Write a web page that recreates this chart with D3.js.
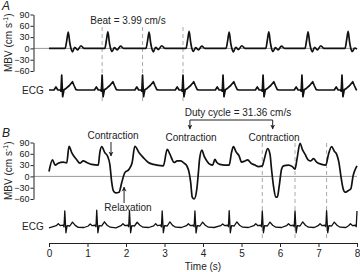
<!DOCTYPE html>
<html>
<head>
<meta charset="utf-8">
<script src="https://cdn.jsdelivr.net/npm/d3@7"></script>
<style>
  body { margin: 0; background: #fff; }
  svg { font-family: "Liberation Sans", Arial, sans-serif; }
  .axis text { font-size: 9px; fill: #222; }
  .axis path, .axis line { stroke: #222; stroke-width: 1; }
  .lbl { font-size: 10px; fill: #222; }
</style>
</head>
<body>
<svg id="chart" width="360" height="272"></svg>
<script>
// ---- data (time in s, MBV in cm/s, ECG in arbitrary units) ----
const mbvTicks = [-60, -30, 0, 30, 60, 90];
const timeTicks = [0, 1, 2, 3, 4, 5, 6, 7, 8];

// Panel A: regular beats
const mbvA = [
  [0,0],
  [0.42,0],[0.46,20],[0.50,43],[0.54,15],[0.57,0],[0.61,-9],[0.67,3],[0.74,-4],[0.83,7],[0.91,0],
  [1.45,0],[1.49,21],[1.53,44],[1.57,14],[1.60,0],[1.64,-8],[1.70,2],[1.77,-4],[1.86,6],[1.94,0],
  [2.52,0],[2.56,20],[2.60,43],[2.64,15],[2.67,0],[2.71,-9],[2.77,3],[2.84,-3],[2.93,7],[3.01,0],
  [3.56,0],[3.60,22],[3.64,45],[3.68,16],[3.71,0],[3.75,-8],[3.81,2],[3.88,-4],[3.97,6],[4.05,0],
  [4.60,0],[4.64,20],[4.68,43],[4.72,14],[4.75,0],[4.79,-9],[4.85,3],[4.92,-3],[5.01,7],[5.09,0],
  [5.63,0],[5.67,21],[5.71,44],[5.75,15],[5.78,0],[5.82,-8],[5.88,2],[5.95,-4],[6.04,6],[6.12,0],
  [6.65,0],[6.69,21],[6.73,44],[6.77,15],[6.80,0],[6.84,-9],[6.90,3],[6.97,-4],[7.06,7],[7.14,0],
  [7.69,0],[7.73,22],[7.77,45],[7.81,15],[7.84,0],[7.88,-8],[7.94,1],[8.0,-2]
];

const ecgA = [
  [0,0],
  [0.13,0],[0.18,0.2],[0.23,0],[0.29,0],[0.31,-0.08],[0.33,1.0],[0.355,-0.45],[0.39,0.02],[0.45,0.12],[0.53,0.3],[0.61,0.55],[0.65,0.3],[0.70,0.02],[0.75,0],
  [1.18,0],[1.23,0.2],[1.28,0],[1.34,0],[1.36,-0.08],[1.38,1.0],[1.405,-0.45],[1.44,0.02],[1.50,0.12],[1.58,0.3],[1.66,0.55],[1.70,0.3],[1.75,0.02],[1.80,0],
  [2.23,0],[2.28,0.2],[2.33,0],[2.39,0],[2.41,-0.08],[2.43,1.0],[2.455,-0.45],[2.49,0.02],[2.55,0.12],[2.63,0.3],[2.71,0.55],[2.75,0.3],[2.80,0.02],[2.85,0],
  [3.28,0],[3.33,0.2],[3.38,0],[3.44,0],[3.46,-0.08],[3.48,1.0],[3.505,-0.45],[3.54,0.02],[3.60,0.12],[3.68,0.3],[3.76,0.55],[3.80,0.3],[3.85,0.02],[3.90,0],
  [4.32,0],[4.37,0.2],[4.42,0],[4.48,0],[4.50,-0.08],[4.52,1.0],[4.545,-0.45],[4.58,0.02],[4.64,0.12],[4.72,0.3],[4.80,0.55],[4.84,0.3],[4.89,0.02],[4.94,0],
  [5.36,0],[5.41,0.2],[5.46,0],[5.52,0],[5.54,-0.08],[5.56,1.0],[5.585,-0.45],[5.62,0.02],[5.68,0.12],[5.76,0.3],[5.84,0.55],[5.88,0.3],[5.93,0.02],[5.98,0],
  [6.37,0],[6.42,0.2],[6.47,0],[6.53,0],[6.55,-0.08],[6.57,1.0],[6.595,-0.45],[6.63,0.02],[6.69,0.12],[6.77,0.3],[6.85,0.55],[6.89,0.3],[6.94,0.02],[6.99,0],
  [7.41,0],[7.46,0.2],[7.51,0],[7.57,0],[7.59,-0.08],[7.61,1.0],[7.635,-0.45],[7.67,0.02],[7.73,0.12],[7.81,0.3],[7.89,0.55],[7.93,0.3],[7.98,0.02],[8.0,0]
];

// Panel B: contraction / relaxation episodes
const mbvB = [
  [0,13],[0.09,44],[0.16,30],[0.24,35],[0.37,38],[0.46,36],[0.52,80],[0.59,63],[0.72,44],[0.80,35],
  [0.89,41],[0.98,37],[1.11,32],[1.28,30],[1.32,63],[1.37,79],[1.45,63],[1.52,54],[1.58,32],[1.63,-16],
  [1.67,-38],[1.73,-44],[1.82,-42],[1.89,-16],[1.97,10],[2.08,19],[2.16,37],[2.23,80],[2.34,63],[2.45,50],
  [2.58,37],[2.71,32],[2.80,30],[2.97,28],[3.07,72],[3.14,59],[3.25,37],[3.33,41],[3.42,41],[3.51,35],
  [3.58,28],[3.64,10],[3.68,-16],[3.72,-55],[3.77,-60],[3.84,-33],[3.88,10],[3.91,45],[3.97,70],[4.03,54],
  [4.10,41],[4.18,32],[4.25,30],[4.31,45],[4.36,37],[4.44,32],[4.57,30],[4.68,30],[4.74,63],[4.79,79],
  [4.86,65],[4.94,54],[5.00,38],[5.09,41],[5.16,44],[5.25,35],[5.35,30],[5.44,26],[5.54,28],[5.59,45],
  [5.68,74],[5.74,59],[5.78,19],[5.83,-25],[5.89,-55],[5.93,-55],[5.98,-25],[6.04,19],[6.09,28],[6.22,30],
  [6.32,26],[6.39,19],[6.44,45],[6.52,88],[6.58,72],[6.65,59],[6.73,44],[6.80,41],[6.87,47],[6.95,38],
  [7.08,32],[7.19,30],[7.26,59],[7.34,79],[7.41,67],[7.47,59],[7.53,37],[7.58,2],[7.64,-33],[7.69,-42],
  [7.77,-38],[7.84,-33],[7.90,2],[7.94,15],[8.0,28]
];

const ecgB = [
  [0,-0.12],
  [0.19,0.02],[0.24,0.16],[0.29,0.03],[0.37,0.06],[0.39,-0.06],[0.41,1.0],[0.44,-0.45],[0.47,0.02],[0.54,0.0],[0.61,0.26],[0.68,0.04],[0.76,-0.09],[0.91,-0.1],
  [1.02,0.0],[1.07,0.14],[1.12,0.02],[1.20,0.05],[1.22,-0.05],[1.24,1.05],[1.27,-0.45],[1.30,0.02],[1.37,0.01],[1.44,0.28],[1.51,0.05],[1.59,-0.08],[1.74,-0.12],
  [1.87,0.02],[1.92,0.15],[1.97,0.03],[2.05,0.05],[2.07,-0.05],[2.09,1.02],[2.12,-0.45],[2.15,0.02],[2.22,0.0],[2.29,0.25],[2.36,0.05],[2.44,-0.08],[2.59,-0.1],
  [2.72,0.01],[2.77,0.16],[2.82,0.02],[2.90,0.06],[2.92,-0.06],[2.94,1.0],[2.97,-0.44],[3.00,0.02],[3.07,0.0],[3.14,0.27],[3.21,0.04],[3.29,-0.08],[3.44,-0.1],
  [3.57,0.02],[3.62,0.15],[3.67,0.03],[3.75,0.05],[3.77,-0.05],[3.79,1.0],[3.82,-0.46],[3.85,0.02],[3.92,0.0],[3.99,0.26],[4.06,0.05],[4.14,-0.08],[4.29,-0.1],
  [4.46,0.02],[4.51,0.14],[4.56,0.03],[4.64,0.05],[4.66,-0.05],[4.68,1.02],[4.71,-0.45],[4.74,0.02],[4.81,0.0],[4.88,0.27],[4.95,0.05],[5.03,-0.08],[5.18,-0.1],
  [5.32,0.02],[5.37,0.15],[5.42,0.03],[5.50,0.05],[5.52,-0.05],[5.54,1.0],[5.57,-0.45],[5.60,0.02],[5.67,0.0],[5.74,0.26],[5.81,0.05],[5.89,-0.08],[6.04,-0.1],
  [6.17,0.02],[6.22,0.15],[6.27,0.03],[6.35,0.05],[6.37,-0.05],[6.39,1.0],[6.42,-0.45],[6.45,0.02],[6.52,0.0],[6.59,0.27],[6.66,0.05],[6.74,-0.08],[6.89,-0.1],
  [6.99,0.02],[7.04,0.15],[7.09,0.03],[7.17,0.05],[7.19,-0.05],[7.21,1.02],[7.24,-0.45],[7.27,0.02],[7.34,0.0],[7.41,0.26],[7.48,0.05],[7.56,-0.08],[7.71,-0.1],
  [7.78,0.02],[7.83,0.15],[7.88,0.03],[7.96,0.05],[7.98,-0.05],[8.0,1.0]
];

// R-peak times marked with dashed guides
const markA = [1.38, 2.43, 3.48];
const markB = [5.54, 6.39, 7.21];

// annotations
const contractionT = [1.61, 3.66, 5.81];
const relaxationT = 1.95;

// ---- drawing ----
const svg = d3.select("#chart");
const axisX = 33.5;

const x = d3.scaleLinear().domain([0, 8]).range([49, 357]);
const yA = d3.scaleLinear().domain([-60, 90]).range([71, 14.5]);
const yB = d3.scaleLinear().domain([-60, 90]).range([199, 142.5]);
const eA = d3.scaleLinear().domain([0, 1]).range([90, 75]);
const eB = d3.scaleLinear().domain([0, 1]).range([226, 211]);

svg.append("defs").append("marker")
    .attr("id", "arr")
    .attr("viewBox", "0 0 10 10")
    .attr("refX", 9).attr("refY", 5)
    .attr("markerWidth", 5).attr("markerHeight", 6)
    .attr("orient", "auto-start-reverse")
    .append("path")
    .attr("d", "M0,0 L10,5 L0,10 L3,5 Z")
    .attr("fill", "#222");

// zero lines
[yA, yB].forEach(y => {
    svg.append("line")
        .attr("x1", axisX).attr("x2", x(8))
        .attr("y1", y(0)).attr("y2", y(0))
        .attr("stroke", "#9a9a9a").attr("stroke-width", 1);
});

// dashed guides
markA.forEach(t => {
    svg.append("line")
        .attr("x1", x(t)).attr("x2", x(t)).attr("y1", 27).attr("y2", 102)
        .attr("stroke", "#aaa").attr("stroke-width", 1).attr("stroke-dasharray", "4,3");
});
markB.forEach(t => {
    svg.append("line")
        .attr("x1", x(t)).attr("x2", x(t)).attr("y1", 143).attr("y2", 240)
        .attr("stroke", "#aaa").attr("stroke-width", 1).attr("stroke-dasharray", "4,3");
});

// traces
function trace(data, y, curve, w) {
    const line = d3.line().x(d => x(d[0])).y(d => y(d[1])).curve(curve);
    svg.append("path")
        .attr("d", line(data))
        .attr("fill", "none")
        .attr("stroke", "#111")
        .attr("stroke-width", w)
        .attr("stroke-linejoin", "round");
}
trace(mbvA, yA, d3.curveMonotoneX, 1.7);
trace(ecgA, eA, d3.curveLinear, 1.7);
trace(mbvB, yB, d3.curveMonotoneX, 1.7);
trace(ecgB, eB, d3.curveLinear, 1.3);

// y axes
[yA, yB].forEach(y => {
    svg.append("g")
        .attr("class", "axis")
        .attr("transform", `translate(${axisX},0)`)
        .call(d3.axisLeft(y).tickValues(mbvTicks).tickSize(3).tickSizeOuter(0).tickPadding(1));
});

// x axis (panel B)
const xAxis = svg.append("g")
    .attr("class", "axis")
    .attr("transform", "translate(0,243)")
    .call(d3.axisBottom(x).tickValues(timeTicks).tickSize(4).tickSizeOuter(0).tickPadding(3));
xAxis.selectAll("text").style("font-size", "10px");

// y axis titles
[[yA, "A"], [yB, "B"]].forEach(([y]) => {
    const cy = (y.range()[0] + y.range()[1]) / 2;
    const t = svg.append("text")
        .attr("class", "lbl")
        .attr("transform", `translate(12,${cy}) rotate(-90)`)
        .attr("text-anchor", "middle");
    t.append("tspan").text("MBV (cm s");
    t.append("tspan").attr("font-size", "7px").attr("dy", -4).text("-1");
    t.append("tspan").attr("dy", 4).text(")");
});

// panel letters
svg.append("text").attr("x", 2).attr("y", 10)
    .attr("font-size", "12px").attr("font-style", "italic").attr("fill", "#222").text("A");
svg.append("text").attr("x", 2).attr("y", 137)
    .attr("font-size", "12px").attr("font-style", "italic").attr("fill", "#222").text("B");

// ECG labels
svg.append("text").attr("class", "lbl").attr("x", 22).attr("y", 94).text("ECG");
svg.append("text").attr("class", "lbl").attr("x", 22).attr("y", 230).text("ECG");

// x title
svg.append("text").attr("class", "lbl").attr("x", 203).attr("y", 270)
    .attr("text-anchor", "middle").text("Time (s)");

// annotations
svg.append("text").attr("class", "lbl").attr("x", 128).attr("y", 24)
    .attr("text-anchor", "middle").text("Beat = 3.99 cm/s");

svg.append("text").attr("class", "lbl").attr("x", 238).attr("y", 116)
    .attr("text-anchor", "middle").text("Duty cycle = 31.36 cm/s");

// bracket for duty cycle
svg.append("line")
    .attr("x1", x(contractionT[1])).attr("x2", x(contractionT[2]))
    .attr("y1", 120).attr("y2", 120)
    .attr("stroke", "#222").attr("stroke-width", 1);
[contractionT[1], contractionT[2]].forEach(t => {
    svg.append("line")
        .attr("x1", x(t)).attr("x2", x(t)).attr("y1", 120).attr("y2", 129)
        .attr("stroke", "#222").attr("stroke-width", 1)
        .attr("marker-end", "url(#arr)");
});

const contrLabelX = [113, 191, 274];
const contrLabelY = [139, 141, 141];
contrLabelX.forEach((cx, i) => {
    svg.append("text").attr("class", "lbl").attr("x", cx).attr("y", contrLabelY[i])
        .attr("text-anchor", "middle").text("Contraction");
});

// first contraction arrow
svg.append("line")
    .attr("x1", x(contractionT[0])).attr("x2", x(contractionT[0]))
    .attr("y1", 142).attr("y2", 156)
    .attr("stroke", "#222").attr("stroke-width", 1)
    .attr("marker-end", "url(#arr)");

// relaxation
svg.append("line")
    .attr("x1", x(relaxationT)).attr("x2", x(relaxationT))
    .attr("y1", 203).attr("y2", 187)
    .attr("stroke", "#222").attr("stroke-width", 1)
    .attr("marker-end", "url(#arr)");
svg.append("text").attr("class", "lbl").attr("x", 128).attr("y", 211)
    .attr("text-anchor", "middle").text("Relaxation");
</script>
</body>
</html>
